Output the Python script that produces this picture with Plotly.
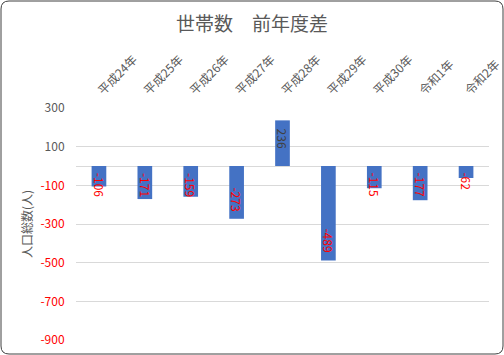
import plotly.graph_objects as go

categories = ["平成24年", "平成25年", "平成26年", "平成27年", "平成28年", "平成29年", "平成30年", "令和1年", "令和2年"]
values = [-106, -171, -159, -273, 236, -489, -115, -177, -62]
tick_vals = [300, 100, -100, -300, -500, -700, -900]

GRAY = "#595959"
RED = "#FF0000"
FONT = "Noto Sans CJK JP"
Y_MIN, Y_MAX = -900, 300

tick_text = [(f"<span style='color:{RED}'>{v}</span>" if v < 0 else str(v)) for v in tick_vals]
label_colors = [RED if v < 0 else "#404040" for v in values]

L, R, T, B = 76, 15, 108, 15
W, H = 504, 355
pw, ph = W - L - R, H - T - B
upp = (Y_MAX - Y_MIN) / ph  # data units per pixel

fig = go.Figure()
fig.add_trace(go.Bar(
    x=categories, y=values,
    marker=dict(color="#4472C4", line=dict(width=0)),
    width=0.32, hoverinfo="x+y",
))

# data labels: inside end, but never closer than a few px to the axis
annotations = []
for c, v, col in zip(categories, values, label_colors):
    s = str(v)
    tlen = 6.5 * sum(ch.isdigit() for ch in s) + (4 if v < 0 else 0)  # px
    bar_px = abs(v) / upp
    half = tlen / 2
    center_px = max(7 + half, bar_px - 8 - half)  # distance from zero, px
    yc = (-1 if v < 0 else 1) * center_px * upp
    annotations.append(dict(x=c, y=yc, xref="x", yref="y", text=s, showarrow=False,
                            textangle=90, xanchor="center", yanchor="middle",
                            font=dict(size=12, color=col, family=FONT)))

def px2x(p):
    return (p - L) / pw

def py2y(p):
    return (H - B - p) / ph

# y-axis title
annotations.append(dict(x=px2x(26), y=0.5, xref="paper", yref="paper", text="人口総数(人)",
                        showarrow=False, textangle=-90, xanchor="center", yanchor="middle",
                        font=dict(size=12, color=GRAY, family=FONT)))

x0, x1 = px2x(1), px2x(503)
y0, y1 = py2y(354), py2y(1)
rx, ry = 8 / pw, 8 / ph
path = (f"M {x0+rx},{y1} L {x1-rx},{y1} Q {x1},{y1} {x1},{y1-ry} "
        f"L {x1},{y0+ry} Q {x1},{y0} {x1-rx},{y0} L {x0+rx},{y0} "
        f"Q {x0},{y0} {x0},{y0+ry} L {x0},{y1-ry} Q {x0},{y1} {x0+rx},{y1} Z")

fig.update_layout(
    width=W, height=H,
    margin=dict(l=L, r=R, t=T, b=B, autoexpand=False),
    paper_bgcolor="white", plot_bgcolor="white",
    font=dict(family=FONT, color=GRAY, size=12),
    showlegend=False,
    annotations=annotations,
    title=dict(text="世帯数　前年度差", x=0.5, xref="container", xanchor="center",
               y=1 - 24 / H, yanchor="middle",
               font=dict(size=19, color=GRAY, family=FONT)),
    shapes=[dict(type="path", xref="paper", yref="paper", path=path,
                 line=dict(color="#404040", width=1), fillcolor="rgba(0,0,0,0)", layer="below")],
    xaxis=dict(side="top", tickangle=-45, showgrid=False, showline=False,
               ticks="outside", ticklen=5, tickcolor="rgba(0,0,0,0)",
               tickfont=dict(size=12, color=GRAY, family=FONT), automargin=False),
    yaxis=dict(range=[Y_MIN, Y_MAX], tickvals=tick_vals, ticktext=tick_text,
               showgrid=True, gridcolor="#D9D9D9", gridwidth=1,
               zeroline=True, zerolinecolor="#D9D9D9", zerolinewidth=1,
               showline=False, ticks="outside", ticklen=8, tickcolor="rgba(0,0,0,0)",
               automargin=False,
               tickfont=dict(size=12, color=GRAY, family=FONT)),
)

fig.write_html("out.html")
